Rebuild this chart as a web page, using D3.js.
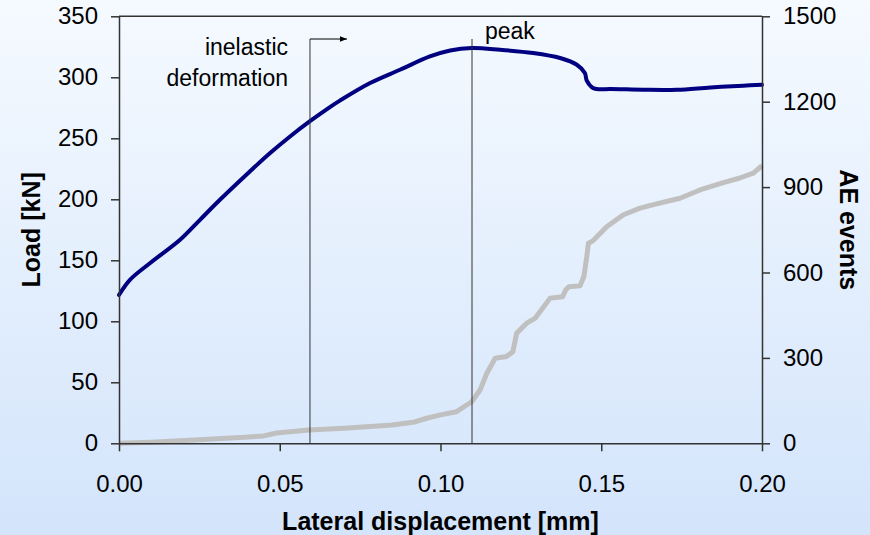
<!DOCTYPE html>
<html>
<head>
<meta charset="utf-8">
<script src="https://cdn.jsdelivr.net/npm/d3@7"></script>
<style>
  html, body { margin: 0; padding: 0; }
  body { width: 870px; height: 535px; overflow: hidden; }
  svg { display: block; font-family: "Liberation Sans", Arial, sans-serif; }
</style>
</head>
<body>
<svg id="chart" width="870" height="535"></svg>
<script>
// Load–displacement curve (left axis, kN)
const loadDisp = [0.000, 0.0034, 0.0096, 0.0190, 0.0252, 0.0314, 0.0407, 0.0470, 0.0532, 0.0594,
  0.0656, 0.0687, 0.0781, 0.0874, 0.0967, 0.1030, 0.1097, 0.1185, 0.1288, 0.1372, 0.1424,
  0.1449, 0.1455, 0.1474, 0.1496, 0.1527, 0.1630, 0.1735, 0.1840, 0.1942, 0.2000];
const loadKN = [121.6, 134.0, 147.6, 166.8, 183.2, 199.6, 222.8, 237.9, 251.5, 264.0,
  275.6, 280.9, 295.3, 306.2, 317.1, 322.0, 324.0, 322.6, 319.9, 315.8, 310.3,
  303.5, 297.2, 291.2, 290.2, 290.4, 289.8, 289.8, 291.7, 293.1, 293.9];

// Cumulative acoustic emission events (right axis)
const aeDisp = [0, 0.010, 0.022, 0.032, 0.039, 0.045, 0.049, 0.059, 0.070, 0.085, 0.092, 0.0957,
  0.100, 0.105, 0.1097, 0.1123, 0.1144, 0.1152, 0.1170, 0.1205, 0.1225, 0.1237, 0.1268, 0.1295,
  0.1310, 0.1341, 0.1380, 0.1390, 0.1400, 0.1434, 0.1446, 0.1455, 0.1460, 0.1475, 0.1490, 0.1517,
  0.1569, 0.1621, 0.1672, 0.1745, 0.1807, 0.1880, 0.1931, 0.1973, 0.2000];
const aeCount = [0, 4, 11, 17, 21, 26, 36, 47, 53, 64, 75, 88,
  100, 111, 146, 187, 246, 262, 299, 305, 322, 387, 422, 440,
  463, 510, 515, 540, 550, 553, 586, 656, 703, 712, 730, 761,
  803, 826, 841, 861, 890, 916, 932, 949, 975];

// Tick labels
const dispTicks = [0, 0.05, 0.10, 0.15, 0.20];
const loadTicks = [0, 50, 100, 150, 200, 250, 300, 350];
const aeTicks = [0, 300, 600, 900, 1200, 1500];

// Annotation positions (mm)
const inelasticAt = 0.0594;
const peakAt = 0.1098;

const svg = d3.select("#chart");

// background gradient
const defs = svg.append("defs");
const grad = defs.append("linearGradient").attr("id", "bg").attr("x1", 0).attr("y1", 0).attr("x2", 0).attr("y2", 1);
grad.append("stop").attr("offset", "0%").attr("stop-color", "#f5faff");
grad.append("stop").attr("offset", "100%").attr("stop-color", "#d3e4fb");
svg.append("rect").attr("width", 870).attr("height", 535).attr("fill", "url(#bg)");

const marker = defs.append("marker").attr("id", "arrow").attr("viewBox", "0 0 10 10")
  .attr("refX", 10).attr("refY", 5).attr("markerWidth", 7).attr("markerHeight", 7)
  .attr("markerUnits", "userSpaceOnUse").attr("orient", "auto");
marker.append("path").attr("d", "M0,1 L10,5 L0,9 Z").attr("fill", "#000");

const x = d3.scaleLinear().domain([0, 0.2]).range([119, 762]);
const yL = d3.scaleLinear().domain([0, 350]).range([443.3, 16.3]);
const yR = d3.scaleLinear().domain([0, 1500]).range([443.3, 16.3]);

const axisColor = "#333";

// AE events curve
const aeData = aeDisp.map((d, i) => [d, aeCount[i]]);
svg.append("path")
  .datum(aeData)
  .attr("fill", "none")
  .attr("stroke", "#c0c0c0")
  .attr("stroke-width", 5)
  .attr("stroke-linejoin", "round")
  .attr("d", d3.line().x(d => x(d[0])).y(d => yR(d[1])));

// load curve
const loadData = loadDisp.map((d, i) => [d, loadKN[i]]);
svg.append("path")
  .datum(loadData)
  .attr("fill", "none")
  .attr("stroke", "#000080")
  .attr("stroke-width", 4)
  .attr("stroke-linejoin", "round")
  .attr("stroke-linecap", "round")
  .attr("d", d3.line().curve(d3.curveCatmullRom).x(d => x(d[0])).y(d => yL(d[1])));

// axes
function styleAxis(g) {
  g.selectAll("path.domain").attr("stroke", axisColor).attr("stroke-width", 1.5);
  g.selectAll(".tick line").attr("stroke", axisColor).attr("stroke-width", 1.5);
  g.selectAll(".tick text").attr("fill", "#000").style("font-size", "24px")
    .style("font-family", "'Liberation Sans', Arial, sans-serif");
}

svg.append("g").attr("transform", `translate(0,${yL(0)})`)
  .call(d3.axisBottom(x).tickValues(dispTicks).tickFormat(d3.format(".2f"))
    .tickSize(8).tickSizeOuter(0).tickPadding(24))
  .call(styleAxis);

svg.append("g").attr("transform", `translate(${x(0)},0)`)
  .call(d3.axisLeft(yL).tickValues(loadTicks).tickFormat(d3.format("d"))
    .tickSize(8).tickSizeOuter(0).tickPadding(13))
  .call(styleAxis);

svg.append("g").attr("transform", `translate(${x(0.2)},0)`)
  .call(d3.axisRight(yR).tickValues(aeTicks).tickFormat(d3.format("d"))
    .tickSize(8).tickSizeOuter(0).tickPadding(13))
  .call(styleAxis);

// top frame
svg.append("line").attr("x1", x(0)).attr("x2", x(0.2)).attr("y1", yL(350)).attr("y2", yL(350))
  .attr("stroke", axisColor).attr("stroke-width", 1.5);

// axis titles
svg.append("text").attr("x", (x(0) + x(0.2)) / 2).attr("y", 530)
  .attr("text-anchor", "middle").style("font-size", "25px").style("font-weight", "bold")
  .text("Lateral displacement [mm]");

svg.append("text").attr("transform", `translate(40,${(yL(0) + yL(350)) / 2}) rotate(-90)`)
  .attr("text-anchor", "middle").style("font-size", "25px").style("font-weight", "bold")
  .text("Load [kN]");

svg.append("text").attr("transform", `translate(840,${(yL(0) + yL(350)) / 2}) rotate(90)`)
  .attr("text-anchor", "middle").style("font-size", "25px").style("font-weight", "bold")
  .text("AE events");

// annotations
const annTop = 39;
svg.append("line").attr("x1", x(inelasticAt)).attr("x2", x(inelasticAt))
  .attr("y1", annTop).attr("y2", yL(0)).attr("stroke", "#333").attr("stroke-width", 1);
svg.append("line").attr("x1", x(inelasticAt)).attr("x2", x(inelasticAt) + 37)
  .attr("y1", annTop).attr("y2", annTop).attr("stroke", "#000").attr("stroke-width", 1)
  .attr("marker-end", "url(#arrow)");
svg.append("line").attr("x1", x(peakAt)).attr("x2", x(peakAt))
  .attr("y1", annTop).attr("y2", yL(0)).attr("stroke", "#333").attr("stroke-width", 1);

const ann = svg.append("text").attr("text-anchor", "end").style("font-size", "23px");
ann.append("tspan").attr("x", 288).attr("y", 55).text("inelastic");
ann.append("tspan").attr("x", 288).attr("y", 86).text("deformation");

svg.append("text").attr("x", 485).attr("y", 39).style("font-size", "23px").text("peak");
</script>
</body>
</html>
